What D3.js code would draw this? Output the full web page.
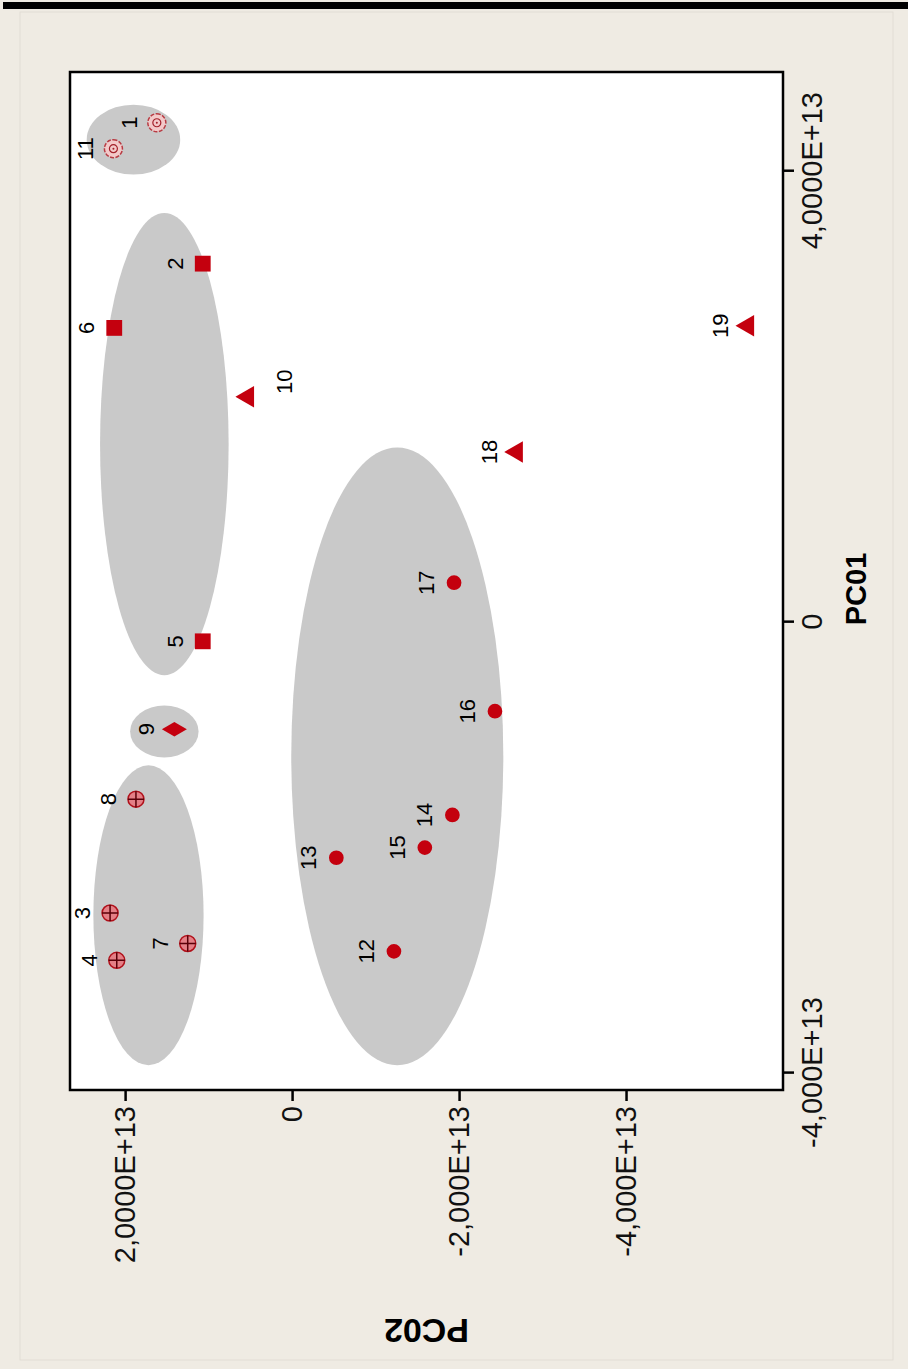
<!DOCTYPE html>
<html>
<head>
<meta charset="utf-8">
<script src="https://cdn.jsdelivr.net/npm/d3@7"></script>
<style>
  body { margin: 0; background: #efebe3; }
  svg { display: block; }
</style>
</head>
<body>
<svg width="908" height="1369"></svg>
<script>
// sample ids and the two coordinates (units of 1E+13)
const ids = [1, 11, 2, 6, 5, 10, 18, 19, 17, 16, 14, 15, 13, 12, 9, 8, 3, 4, 7];
const pc01 = [4.43, 4.20, 3.18, 2.61, -0.17, 2.00, 1.51, 2.63, 0.35, -0.79, -1.71, -2.00, -2.09, -2.92, -0.95, -1.57, -2.58, -3.00, -2.85];
const pc02 = [1.62, 2.14, 1.07, 2.13, 1.07, 0.53, -2.69, -5.46, -1.94, -2.43, -1.92, -1.59, -0.53, -1.22, 1.41, 1.87, 2.18, 2.10, 1.25];
const groups = ["ring", "ring", "square", "square", "square", "triangle", "triangle", "triangle",
  "circle", "circle", "circle", "circle", "circle", "circle", "diamond", "cross", "cross", "cross", "cross"];

// grey cluster ellipses: centre and half axes (units of 1E+13)
const ellPc01 = [4.28, 1.58, -0.97, -2.60, -1.19];
const ellPc02 = [1.90, 1.53, 1.53, 1.72, -1.26];
const ellHalf01 = [0.31, 2.05, 0.23, 1.33, 2.74];
const ellHalf02 = [0.56, 0.77, 0.41, 0.66, 1.27];

const xTicks = [-4, 0, 4];
const xTickLabels = ["-4,000E+13", "0", "4,0000E+13"];
const yTicks = [-4, -2, 0, 2];
const yTickLabels = ["-4,000E+13", "-2,000E+13", "0", "2,0000E+13"];

const E = 1e13;
const data = ids.map((id, i) => ({ id, x: pc01[i] * E, y: pc02[i] * E, g: groups[i] }));
const ellipses = ellPc01.map((c, i) => ({ cx: c * E, cy: ellPc02[i] * E, hx: ellHalf01[i] * E, hy: ellHalf02[i] * E }));

const svg = d3.select("svg");
const width = +svg.attr("width");
const height = +svg.attr("height");

// page frame
svg.append("rect").attr("x", 0).attr("y", 0).attr("width", width).attr("height", height).attr("fill", "#efebe3");
svg.append("rect").attr("x", 20).attr("y", 12).attr("width", 873).attr("height", 1348)
  .attr("fill", "none").attr("stroke", "#e2ddd5").attr("stroke-width", 1);
svg.append("rect").attr("x", 3).attr("y", 2).attr("width", width - 3).attr("height", 7).attr("fill", "#000");

// the chart is drawn upright, then turned a quarter turn
const W = 1018, H = 713;
const g = svg.append("g").attr("transform", "translate(70,1090) rotate(-90)");

const xScale = d3.scaleLinear().domain([-4.15 * E, 4.88 * E]).range([0, W]);
const yScale = d3.scaleLinear().domain([-5.88 * E, 2.66 * E]).range([H, 0]);

g.append("rect").attr("width", W).attr("height", H).attr("fill", "#fff");

g.selectAll("ellipse")
  .data(ellipses)
  .join("ellipse")
  .attr("cx", d => xScale(d.cx))
  .attr("cy", d => yScale(d.cy))
  .attr("rx", d => xScale(d.cx + d.hx) - xScale(d.cx))
  .attr("ry", d => yScale(d.cy) - yScale(d.cy + d.hy))
  .attr("fill", "#c9c9c9");

const font = "Liberation Sans, Arial, sans-serif";

const xAxis = g.append("g")
  .attr("transform", `translate(0,${H})`)
  .call(d3.axisBottom(xScale).tickValues(xTicks.map(v => v * E))
    .tickFormat((d, i) => xTickLabels[i]).tickSize(11).tickSizeOuter(0).tickPadding(7));
const yAxis = g.append("g")
  .call(d3.axisLeft(yScale).tickValues(yTicks.map(v => v * E))
    .tickFormat((d, i) => yTickLabels[i]).tickSize(11).tickSizeOuter(0).tickPadding(5));

[xAxis, yAxis].forEach(a => {
  a.select(".domain").remove();
  a.selectAll("line").attr("stroke", "#000").attr("stroke-width", 2.5);
  a.selectAll("text").attr("font-family", font).attr("font-size", 29).attr("fill", "#111");
});

g.append("rect").attr("width", W).attr("height", H)
  .attr("fill", "none").attr("stroke", "#000").attr("stroke-width", 2.5);

g.append("text")
  .attr("x", W / 2 - 8).attr("y", H + 83)
  .attr("text-anchor", "middle")
  .attr("font-family", font).attr("font-size", 29).attr("font-weight", "bold")
  .text("PC01");
g.append("text")
  .attr("transform", `translate(-229,${H / 2}) rotate(-90)`)
  .attr("text-anchor", "middle")
  .attr("font-family", font).attr("font-size", 34).attr("font-weight", "bold")
  .text("PC02");

// markers
const red = "#c4000e";
const pts = g.selectAll("g.pt")
  .data(data)
  .join("g")
  .attr("class", "pt")
  .attr("transform", d => `translate(${xScale(d.x)},${yScale(d.y)})`);

const shapes = { square: d3.symbolSquare, triangle: d3.symbolTriangle, diamond: d3.symbolDiamond, circle: d3.symbolCircle };
const sizes = { square: 250, triangle: 200, diamond: 180, circle: 170 };

pts.filter(d => shapes[d.g])
  .append("path")
  .attr("d", d => d3.symbol(shapes[d.g], sizes[d.g])())
  .attr("fill", red);

const cross = pts.filter(d => d.g === "cross");
cross.append("circle").attr("r", 8).attr("fill", "#e47f86").attr("stroke", "#b0101a").attr("stroke-width", 1.5);
cross.append("path").attr("d", "M-8,0H8M0,-8V8").attr("stroke", "#5a0008").attr("stroke-width", 1.5);

const ring = pts.filter(d => d.g === "ring");
ring.append("circle").attr("r", 9).attr("fill", "#f3c9c9").attr("stroke", "#b83a42").attr("stroke-width", 1.5)
  .attr("stroke-dasharray", "4,1.5");
ring.append("circle").attr("r", 4).attr("fill", "none").attr("stroke", "#a3202a").attr("stroke-width", 1.2);
ring.append("circle").attr("r", 1).attr("fill", "#a3202a");

// point labels, above each marker (below for 10)
const belowLabels = [10];
pts.append("text")
  .attr("x", d => belowLabels.includes(d.id) ? 15 : 0)
  .attr("y", d => belowLabels.includes(d.id) ? 44 : -20)
  .attr("text-anchor", "middle")
  .attr("font-family", font).attr("font-size", 22).attr("fill", "#000")
  .text(d => d.id);
</script>
</body>
</html>
